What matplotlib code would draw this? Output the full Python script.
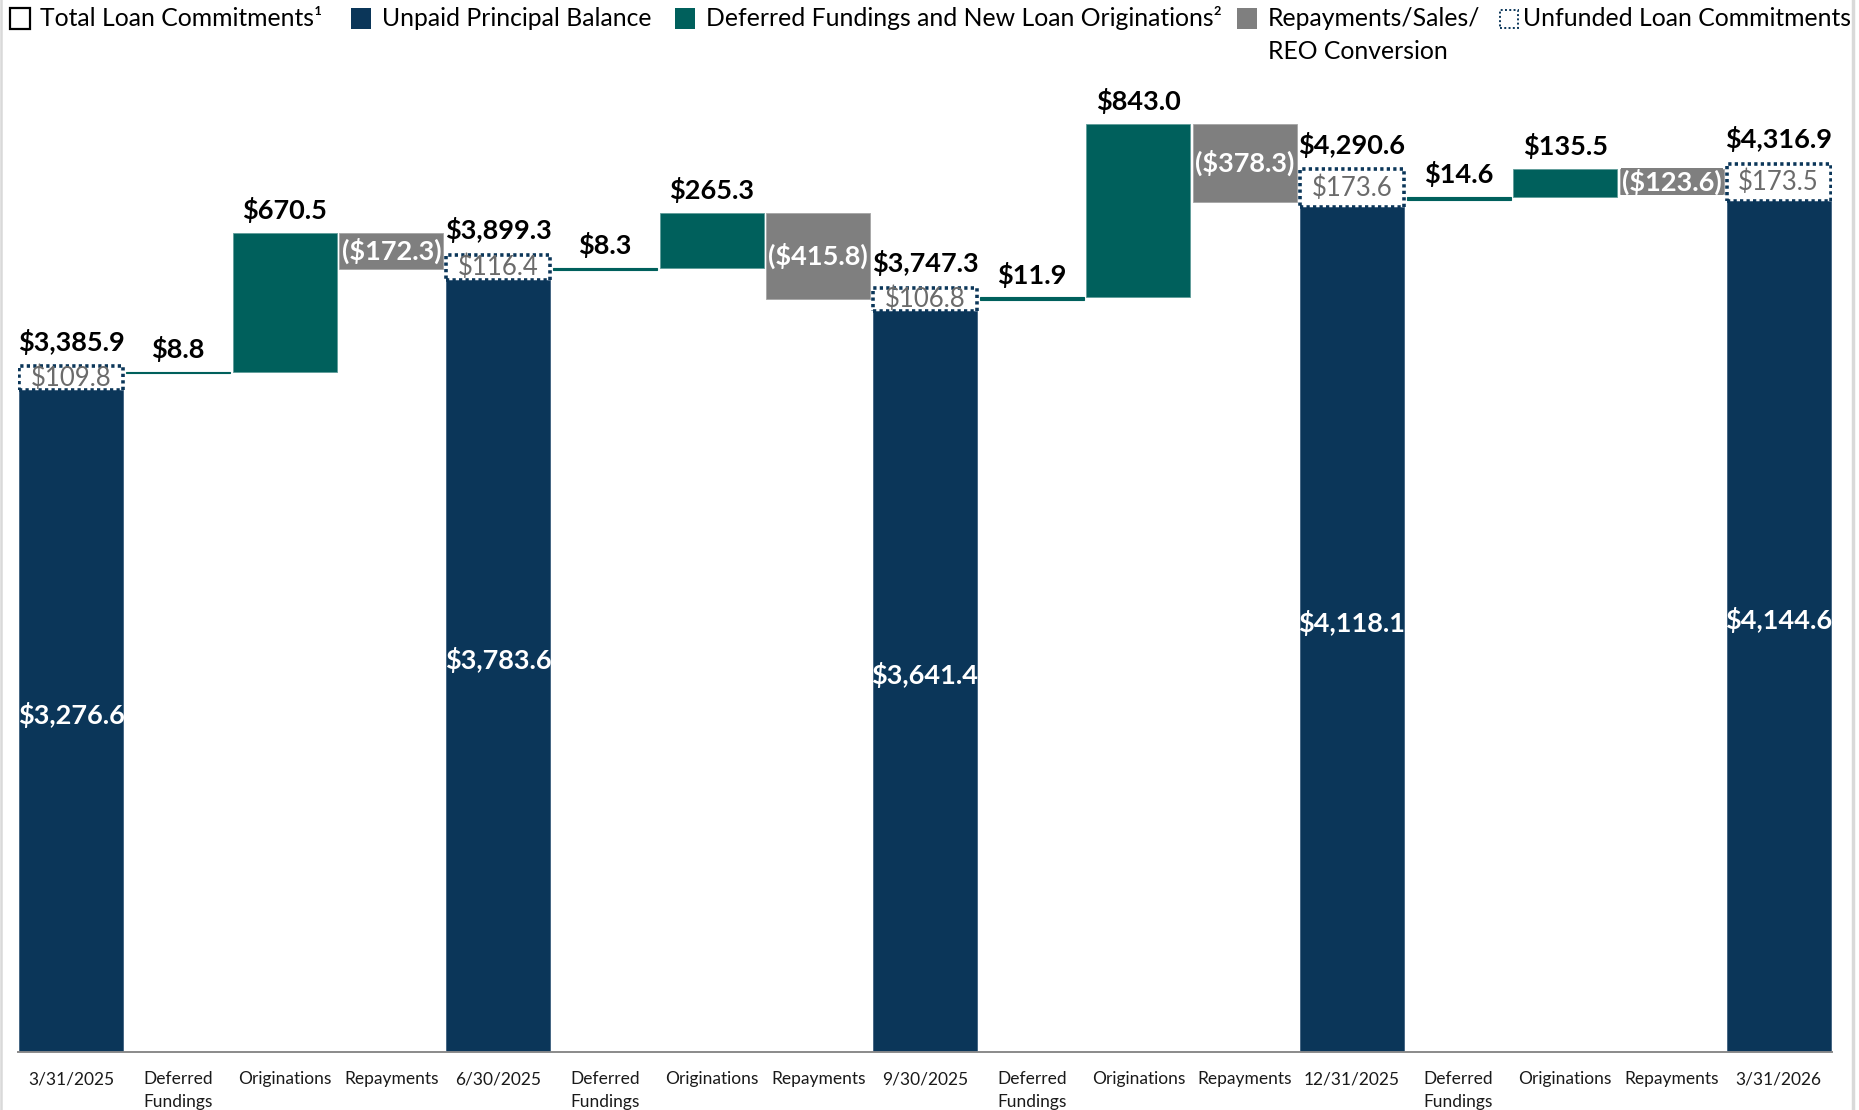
import matplotlib
matplotlib.use("Agg")
import matplotlib.pyplot as plt
from matplotlib.patches import Rectangle
from matplotlib.lines import Line2D

# ---------------- data ----------------
categories = ["3/31/2025", "Deferred\nFundings", "Originations", "Repayments",
              "6/30/2025", "Deferred\nFundings", "Originations", "Repayments",
              "9/30/2025", "Deferred\nFundings", "Originations", "Repayments",
              "12/31/2025", "Deferred\nFundings", "Originations", "Repayments",
              "3/31/2026"]
upb = [3276.6, 3783.6, 3641.4, 4118.1, 4144.6]
unfunded = [109.8, 116.4, 106.8, 173.6, 173.5]
total_commitments = [3385.9, 3899.3, 3747.3, 4290.6, 4316.9]
deferred = [8.8, 8.3, 11.9, 14.6]
originations = [670.5, 265.3, 843.0, 135.5]
repayments = [-172.3, -415.8, -378.3, -123.6]
# level from which each quarter's floating steps start
step_base = [3328.0, 3831.0, 3684.0, 4170.0]

# ---------------- style ----------------
NAVY = "#0b3659"
TEAL = "#00605c"
GRAY = "#7f7f7f"
FONT = ["Lato", "DejaVu Sans"]
plt.rcParams["font.family"] = FONT

W, H = 1859, 1110
fig = plt.figure(figsize=(W / 100, H / 100), dpi=100)
base_px = 1051.7
top_px = 60
span_px = base_px - top_px

# axis for the floating steps
step_px_per_unit = 0.2063
step_ymin = 40.0
ax = fig.add_axes([18 / W, (H - base_px) / H, 1814 / W, span_px / H])
ax.set_xlim(-0.5, len(categories) - 0.5)
ax.set_ylim(step_ymin, step_ymin + span_px / step_px_per_unit)

# axis for the period balance bars (the original uses a slightly different scale)
per_px_per_unit = 0.21766
per_ymin = 238.0
axp = ax.twinx()
axp.set_ylim(per_ymin, per_ymin + span_px / per_px_per_unit)
axp.set_yticks([])
for s in axp.spines.values():
    s.set_visible(False)

bw = 0.975


def fmt(v):
    return "${:,.1f}".format(v)


def fmt_neg(v):
    return "(${:,.1f})".format(abs(v))


label_kw = dict(fontsize=19.5, fontweight="bold", ha="center", family=FONT)

# period bars
for i in range(len(upb)):
    x = 4 * i
    axp.bar(x, upb[i], width=bw, color=NAVY, edgecolor="#3d5f7e", linewidth=0.6, zorder=2)
    axp.add_patch(Rectangle((x - bw / 2, upb[i]), bw, unfunded[i], facecolor="white",
                            edgecolor=NAVY, linewidth=2.6, linestyle=(0, (0.9, 0.9)),
                            zorder=3))
    axp.text(x, (per_ymin + upb[i]) / 2 + 28, fmt(upb[i]), color="white", va="center",
             **label_kw)
    axp.text(x, upb[i] + unfunded[i] / 2, fmt(unfunded[i]), color="#6b6b6b",
             fontsize=18.5, ha="center", va="center", zorder=4)
    axp.annotate(fmt(total_commitments[i]), (x, upb[i] + unfunded[i]), xytext=(0, 11),
                 textcoords="offset points", va="baseline", color="black", **label_kw)

# floating steps
for q in range(len(deferred)):
    x0 = 4 * q
    b = step_base[q]
    ax.bar(x0 + 1, deferred[q], bottom=b, width=bw, color=TEAL, edgecolor=TEAL,
           linewidth=0.8, zorder=2)
    ax.annotate(fmt(deferred[q]), (x0 + 1, b + deferred[q]), xytext=(0, 10),
                textcoords="offset points", va="baseline", color="black", **label_kw)
    ob = b + deferred[q]
    ax.bar(x0 + 2, originations[q], bottom=ob, width=bw, color=TEAL,
           edgecolor="#5f9c99", linewidth=0.6, zorder=2)
    ot = ob + originations[q]
    ax.annotate(fmt(originations[q]), (x0 + 2, ot), xytext=(0, 10),
                textcoords="offset points", va="baseline", color="black", **label_kw)
    ax.bar(x0 + 3, repayments[q], bottom=ot, width=bw, color=GRAY,
           edgecolor="#a6a6a6", linewidth=0.6, zorder=2)
    ax.text(x0 + 3, ot + repayments[q] / 2, fmt_neg(repayments[q]), color="white",
            va="center", zorder=4,
            bbox=dict(facecolor=GRAY, edgecolor="none", pad=0.6), **label_kw)

# axes styling
ax.set_xticks(range(len(categories)))
ax.set_xticklabels(categories, fontsize=12.5, linespacing=1.5, color="#1a1a1a")
ax.tick_params(axis="x", length=0, pad=14)
ax.set_yticks([])
for s in ["left", "right", "top"]:
    ax.spines[s].set_visible(False)
ax.spines["bottom"].set_color("#8c8c8c")
ax.spines["bottom"].set_linewidth(1.3)
ax.spines["bottom"].set_zorder(5)
# keep the axis line visible above the period bars
fig.lines.append(Line2D([18 / W, 1832 / W], [(H - base_px) / H] * 2,
                        transform=fig.transFigure, color="#8c8c8c", linewidth=1.3,
                        zorder=10))


# ---------------- legend (figure coordinates) ----------------
def fx(px):
    return px / W


def fy(py):
    return 1 - py / H


sq = 20
leg_y = 18.5
leg_fs = 17.8
items = [
    (9.5, dict(facecolor="white", edgecolor="black", linewidth=1.6), "Total Loan Commitments¹"),
    (351, dict(facecolor=NAVY, edgecolor="none"), "Unpaid Principal Balance"),
    (675, dict(facecolor=TEAL, edgecolor="none"), "Deferred Fundings and New Loan Originations²"),
    (1237, dict(facecolor=GRAY, edgecolor="none"), "Repayments/Sales/"),
]
for xpx, kw, txt in items:
    fig.patches.append(Rectangle((fx(xpx), fy(leg_y + sq / 2)), sq / W, sq / H,
                                 transform=fig.transFigure, **kw))
    fig.text(fx(xpx + sq + 11), fy(leg_y), txt, fontsize=leg_fs, va="center", ha="left",
             color="black")
fig.text(fx(1237 + sq + 11), fy(leg_y + 33), "REO Conversion", fontsize=leg_fs,
         va="center", ha="left", color="black")
fig.patches.append(Rectangle((fx(1500), fy(leg_y + 9)), 18 / W, 18 / H,
                             transform=fig.transFigure, facecolor="white",
                             edgecolor=NAVY, linewidth=1.4, linestyle=(0, (1, 1.2))))
fig.text(fx(1523), fy(leg_y), "Unfunded Loan Commitments", fontsize=leg_fs, va="center",
         ha="left", color="black")

# light frame lines at the left and right edges
fig.lines.append(Line2D([fx(1), fx(1)], [0, 1], transform=fig.transFigure,
                        color="#d9d9d9", linewidth=1.8))
fig.lines.append(Line2D([fx(1853), fx(1853)], [0, 1], transform=fig.transFigure,
                        color="#d9d9d9", linewidth=2.5))

fig.savefig("out.png", dpi=100)
